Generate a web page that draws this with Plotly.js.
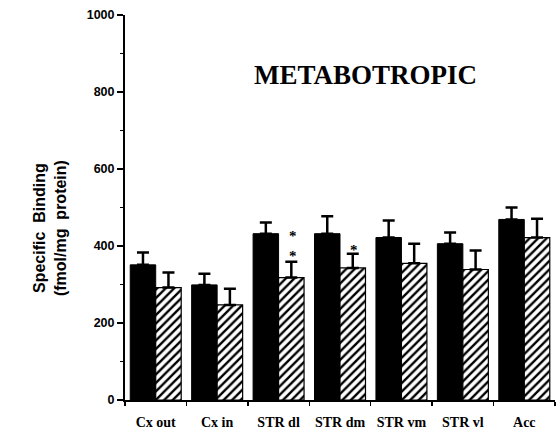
<!DOCTYPE html>
<html><head><meta charset="utf-8">
<script src="https://cdn.plot.ly/plotly-3.0.1.min.js"></script>
<style>html,body{margin:0;padding:0;background:#fff}#c{width:558px;height:434px}</style>
</head><body><div id="c"></div>
<script>
const categories = ["Cx out","Cx in","STR dl","STR dm","STR vm","STR vl","Acc"];
const controlValues = [351, 299, 432, 432, 422, 406, 469];
const controlErr = [32, 29, 29, 45, 44, 29, 31];
const treatedValues = [292, 247, 318, 343, 355, 339, 422];
const treatedErr = [39, 42, 41, 37, 51, 49, 49];
const sigLabels = [["STR dl","*<br>*"],["STR dm","*"]];
const sigY = [[400],[390]];

const serif = "Liberation Serif, Times New Roman, serif";
const sans = "Liberation Sans, Arial, sans-serif";

const traces = [
  {type:"bar", x:categories, y:controlValues, name:"control",
   marker:{color:"#000", line:{color:"#000", width:1}},
   error_y:{type:"data", array:controlErr, arrayminus:controlErr.map(()=>0), symmetric:false, color:"#000", thickness:2.5, width:6}},
  {type:"bar", x:categories, y:treatedValues, name:"treated",
   marker:{color:"#fff", line:{color:"#000", width:1.2},
           pattern:{shape:"/", fgcolor:"#000", bgcolor:"#fff", size:6, solidity:0.4}},
   error_y:{type:"data", array:treatedErr, arrayminus:treatedErr.map(()=>0), symmetric:false, color:"#000", thickness:2.5, width:6}}
];

const annotations = sigLabels.map((s,i)=>({
  x:s[0], y:sigY[i][0], xref:"x", yref:"y", text:s[1], showarrow:false,
  xshift:14, font:{family:serif, size:15, color:"#000", weight:"bold"}
}));
annotations.push({text:"METABOTROPIC", xref:"paper", yref:"paper", x:0.56, y:0.845,
  xanchor:"center", yanchor:"middle", showarrow:false,
  font:{family:serif, size:27, color:"#000", weight:"bold"}});
annotations.push({text:"Specific  Binding<br>(fmol/mg  protein)", xref:"paper", yref:"paper",
  x:-0.174, y:0.447, xanchor:"center", yanchor:"middle", textangle:-90, showarrow:false,
  font:{family:sans, size:16, color:"#000", weight:"bold"}});

const layout = {
  width:558, height:434,
  margin:{l:125, r:3, t:15, b:34},
  paper_bgcolor:"#fff", plot_bgcolor:"#fff",
  showlegend:false,
  barmode:"group", bargap:0.17, bargroupgap:0,
  xaxis:{type:"category", showline:true, linecolor:"#000", linewidth:2,
         ticks:"outside", tickson:"boundaries", ticklen:4, tickwidth:1.5, tickcolor:"#000",
         tickangle:0, ticklabelstandoff:8,
         tickfont:{family:serif, size:14, color:"#000", weight:"bold"}, showgrid:false, zeroline:false},
  yaxis:{range:[0,1000], tickvals:[0,200,400,600,800,1000], showline:true, linecolor:"#000", linewidth:2,
         ticks:"outside", ticklen:6, tickwidth:2, tickcolor:"#000",
         minor:{tickvals:[100,300,500,700,900], ticks:"outside", ticklen:3, tickwidth:1.5, tickcolor:"#000"},
         tickfont:{family:sans, size:12.5, color:"#000", weight:"bold"}, showgrid:false, zeroline:false},
  annotations:annotations
};
Plotly.newPlot("c", traces, layout, {staticPlot:true});
</script></body></html>
